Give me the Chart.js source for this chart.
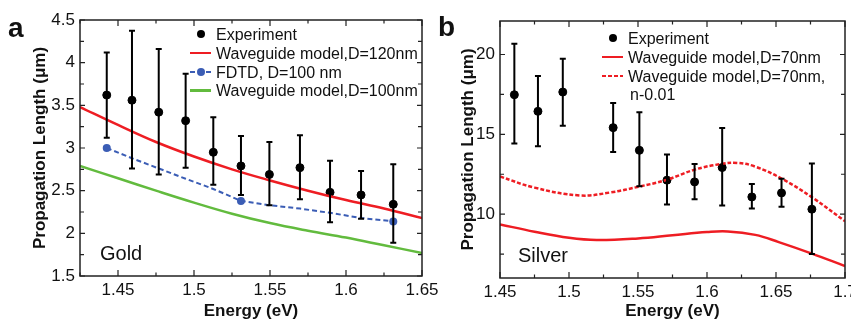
<!DOCTYPE html>
<html>
<head>
<meta charset="utf-8">
<script src="https://cdn.jsdelivr.net/npm/chart.js@4.4.1/dist/chart.umd.min.js"></script>
<style>
  body { margin: 0; background: #fff; font-family: "Liberation Sans", Arial, sans-serif; color: #111; }
  #figura { position: relative; width: 851px; height: 322px; overflow: hidden; }
  canvas { position: absolute; top: 0; }
  #chart-oro { left: 0; }
  #chart-plata { left: 430px; }
  .panel-tag { position: absolute; font-weight: bold; font-size: 28px; line-height: 28px; }
  .leg-text { position: absolute; font-size: 16px; line-height: 18px; white-space: nowrap; }
  .leg-line { position: absolute; width: 21px; height: 2.5px; }
  .leg-dot { position: absolute; width: 8px; height: 8px; border-radius: 50%; }
  .metal { position: absolute; font-size: 20px; line-height: 22px; }
</style>
</head>
<body>
<div id="figura">
  <canvas id="chart-oro" width="440" height="322"></canvas>
  <canvas id="chart-plata" width="421" height="322"></canvas>

  <div class="panel-tag" style="left:8px;top:14px">a</div>
  <div class="panel-tag" style="left:438px;top:13px">b</div>

  <!-- leyenda oro -->
  <div class="leg-dot" style="left:197px;top:30px;background:#000"></div>
  <div class="leg-text" style="left:216px;top:25.5px">Experiment</div>
  <div class="leg-line" style="left:190px;top:51.5px;background:#ee1d23"></div>
  <div class="leg-text" style="left:216px;top:44.5px">Waveguide model,D=120nm</div>
  <div class="leg-line" style="left:190px;top:71px;height:2px;background:repeating-linear-gradient(90deg,#3b5db5 0 5px,transparent 5px 8px)"></div>
  <div class="leg-dot" style="left:197px;top:68px;background:#3b5db5"></div>
  <div class="leg-text" style="left:216px;top:63.8px">FDTD, D=100 nm</div>
  <div class="leg-line" style="left:190px;top:89px;background:#62bb3e"></div>
  <div class="leg-text" style="left:216px;top:82px">Waveguide model,D=100nm</div>
  <div class="metal" style="left:100px;top:242px">Gold</div>

  <!-- leyenda plata -->
  <div class="leg-dot" style="left:609px;top:33.7px;background:#000"></div>
  <div class="leg-text" style="left:628px;top:29.5px">Experiment</div>
  <div class="leg-line" style="left:602px;top:55.5px;background:#ee1d23"></div>
  <div class="leg-text" style="left:628px;top:48.8px">Waveguide model,D=70nm</div>
  <div class="leg-line" style="left:602px;top:74.8px;background:repeating-linear-gradient(90deg,#ee1d23 0 4px,transparent 4px 6px)"></div>
  <div class="leg-text" style="left:628px;top:67.8px">Waveguide model,D=70nm,</div>
  <div class="leg-text" style="left:630px;top:85.5px">n-0.01</div>
  <div class="metal" style="left:518px;top:244px">Silver</div>
</div>

<script>
// ---- Oro (panel a) ----
const oroExpE   = [1.4426, 1.4592, 1.4768, 1.4945, 1.5127, 1.5309, 1.5496, 1.5697, 1.5895, 1.6099, 1.6311];
const oroExpL   = [3.62, 3.56, 3.42, 3.32, 2.95, 2.79, 2.69, 2.77, 2.48, 2.45, 2.34];
const oroExpAlt = [4.12, 4.375, 4.16, 3.87, 3.36, 3.14, 3.07, 3.15, 2.85, 2.73, 2.81];
const oroExpBaj = [3.12, 2.76, 2.69, 2.77, 2.57, 2.45, 2.33, 2.40, 2.13, 2.17, 1.89];

const oroD120E = [1.425, 1.45, 1.475, 1.50, 1.525, 1.55, 1.575, 1.60, 1.625, 1.65];
const oroD120L = [3.48, 3.27, 3.07, 2.90, 2.75, 2.62, 2.50, 2.39, 2.29, 2.18];

const oroFdtdE = [1.4426, 1.4592, 1.4768, 1.4945, 1.5127, 1.5309, 1.5496, 1.5697, 1.5895, 1.6099, 1.6311];
const oroFdtdL = [3.00, 2.88, 2.76, 2.64, 2.52, 2.38, 2.33, 2.29, 2.24, 2.18, 2.14];
const oroFdtdMarca = [4, 0, 0, 0, 0, 4, 0, 0, 0, 0, 4];

const oroD100E = [1.425, 1.45, 1.475, 1.50, 1.525, 1.55, 1.575, 1.60, 1.625, 1.65];
const oroD100L = [2.79, 2.645, 2.50, 2.36, 2.23, 2.12, 2.03, 1.95, 1.86, 1.77];

// ---- Plata (panel b) ----
const plataExpE   = [1.4604, 1.4775, 1.4955, 1.532, 1.551, 1.571, 1.591, 1.611, 1.6325, 1.654, 1.676];
const plataExpL   = [17.48, 16.44, 17.65, 15.42, 14.0, 12.13, 12.02, 12.92, 11.08, 11.33, 10.31];
const plataExpAlt = [20.67, 18.65, 19.73, 16.96, 16.38, 13.73, 13.14, 15.39, 11.89, 12.21, 13.17];
const plataExpBaj = [14.42, 14.25, 15.54, 13.89, 11.75, 10.61, 10.94, 10.54, 10.36, 10.46, 7.5];

const plataD70E = [1.45, 1.475, 1.50, 1.52, 1.55, 1.575, 1.60, 1.615, 1.635, 1.652, 1.676, 1.70];
const plataD70L = [9.36, 8.90, 8.52, 8.38, 8.48, 8.68, 8.88, 8.92, 8.70, 8.25, 7.53, 6.75];

const plataNE = [1.45, 1.475, 1.508, 1.53, 1.551, 1.5704, 1.5911, 1.6106, 1.622, 1.6349, 1.6544, 1.676, 1.70];
const plataNL = [12.36, 11.66, 11.17, 11.36, 11.73, 12.14, 12.79, 13.15, 13.21, 12.98, 12.21, 11.06, 9.56];

const ROJO = '#ee1d23';
const AZUL = '#3b5db5';
const VERDE = '#62bb3e';

Chart.defaults.font.family = '"Liberation Sans", Arial, sans-serif';
Chart.defaults.color = '#111';

const puntos = (xs, ys) => xs.map((x, i) => ({ x: x, y: ys[i] }));

// marcas hacia dentro en los cuatro lados + marco
const marcoYMarcas = {
    id: 'marcoYMarcas',
    afterDraw(chart) {
        const { ctx, chartArea: a, scales } = chart;
        ctx.save();
        ctx.strokeStyle = '#222';
        ctx.lineWidth = 1.2;
        scales.x.ticks.forEach(t => {
            const px = scales.x.getPixelForValue(t.value);
            const len = t.label ? 6 : 3.5;
            ctx.beginPath();
            ctx.moveTo(px, a.bottom); ctx.lineTo(px, a.bottom - len);
            ctx.moveTo(px, a.top); ctx.lineTo(px, a.top + len);
            ctx.stroke();
        });
        scales.y.ticks.forEach(t => {
            const py = scales.y.getPixelForValue(t.value);
            const len = t.label ? 5 : 4;
            ctx.beginPath();
            ctx.moveTo(a.left, py); ctx.lineTo(a.left + len, py);
            ctx.moveTo(a.right, py); ctx.lineTo(a.right - len, py);
            ctx.stroke();
        });
        ctx.lineWidth = 1.5;
        ctx.strokeRect(a.left, a.top, a.right - a.left, a.bottom - a.top);
        ctx.restore();
    }
};

function pluginBarrasError(energias, bajos, altos) {
    return {
        id: 'barrasError',
        afterDatasetsDraw(chart) {
            const { ctx, scales: { x, y } } = chart;
            ctx.save();
            ctx.strokeStyle = '#000';
            ctx.lineWidth = 2;
            energias.forEach((e, i) => {
                const px = x.getPixelForValue(e);
                const top = y.getPixelForValue(altos[i]);
                const bot = y.getPixelForValue(bajos[i]);
                ctx.beginPath();
                ctx.moveTo(px, top); ctx.lineTo(px, bot);
                ctx.moveTo(px - 3, top); ctx.lineTo(px + 3, top);
                ctx.moveTo(px - 3, bot); ctx.lineTo(px + 3, bot);
                ctx.stroke();
            });
            ctx.restore();
        }
    };
}

const esMultiplo = (v, paso) => Math.abs(v / paso - Math.round(v / paso)) < 1e-6;

function opciones(cfg) {
    return {
        responsive: false,
        animation: false,
        layout: { padding: cfg.padding },
        plugins: { legend: { display: false }, tooltip: { enabled: false } },
        scales: {
            x: {
                type: 'linear',
                min: cfg.xMin, max: cfg.xMax,
                grid: { display: false, drawTicks: false, tickLength: 0 },
                border: { display: false },
                afterFit: s => { s.height = cfg.altoX; s.paddingLeft = 0; s.paddingRight = 0; },
                ticks: {
                    stepSize: 0.025,
                    autoSkip: false,
                    maxRotation: 0,
                    padding: 4,
                    color: '#111',
                    font: { size: 17 },
                    callback: v => esMultiplo(v, 0.05) ? String(+v.toFixed(2)) : ''
                },
                title: {
                    display: true, text: 'Energy (eV)', color: '#111',
                    font: { size: 17, weight: 'bold' }, padding: { top: 0, bottom: 0 }
                }
            },
            y: {
                type: 'linear',
                min: cfg.yMin, max: cfg.yMax,
                grid: { display: false, drawTicks: false, tickLength: 0 },
                border: { display: false },
                afterFit: s => { s.width = cfg.anchoY; s.paddingTop = 0; s.paddingBottom = 0; },
                ticks: {
                    stepSize: cfg.yPaso,
                    includeBounds: false,
                    autoSkip: false,
                    padding: 5,
                    color: '#111',
                    font: { size: 17 },
                    callback: v => esMultiplo(v, cfg.yMayor) ? String(+v.toFixed(2)) : ''
                },
                title: {
                    display: true, text: 'Propagation Length (\u03bcm)', color: '#111',
                    font: { size: 17, weight: 'bold' }, padding: { top: 2, bottom: 0 }
                }
            }
        }
    };
}

document.addEventListener('DOMContentLoaded', () => {
    // panel a
    new Chart(document.getElementById('chart-oro'), {
        type: 'scatter',
        data: {
            datasets: [
                { data: puntos(oroD100E, oroD100L), showLine: true, borderColor: VERDE, borderWidth: 2.5, pointRadius: 0, tension: 0.4 },
                { data: puntos(oroD120E, oroD120L), showLine: true, borderColor: ROJO, borderWidth: 2.5, pointRadius: 0, tension: 0.4 },
                { data: puntos(oroFdtdE, oroFdtdL), showLine: true, borderColor: AZUL, backgroundColor: AZUL, borderWidth: 2, borderDash: [5, 3], pointRadius: oroFdtdMarca, pointBorderWidth: 0 },
                { data: puntos(oroExpE, oroExpL), backgroundColor: '#000', borderColor: '#000', pointRadius: 4 }
            ]
        },
        options: opciones({
            padding: { left: 28, right: 18, top: 20, bottom: 0 },
            xMin: 1.425, xMax: 1.65, yMin: 1.5, yMax: 4.5, yPaso: 0.25, yMayor: 0.5,
            altoX: 46, anchoY: 52
        }),
        plugins: [marcoYMarcas, pluginBarrasError(oroExpE, oroExpBaj, oroExpAlt)]
    });

    // panel b
    new Chart(document.getElementById('chart-plata'), {
        type: 'scatter',
        data: {
            datasets: [
                { data: puntos(plataD70E, plataD70L), showLine: true, borderColor: ROJO, borderWidth: 2.5, pointRadius: 0, tension: 0.4 },
                { data: puntos(plataNE, plataNL), showLine: true, borderColor: ROJO, borderWidth: 2.5, borderDash: [4, 2], pointRadius: 0, tension: 0.4 },
                { data: puntos(plataExpE, plataExpL), backgroundColor: '#000', borderColor: '#000', pointRadius: 4 }
            ]
        },
        options: opciones({
            padding: { left: 26, right: 6, top: 21, bottom: 0 },
            xMin: 1.45, xMax: 1.70, yMin: 6, yMax: 22.1, yPaso: 2.5, yMayor: 5,
            altoX: 44, anchoY: 44
        }),
        plugins: [marcoYMarcas, pluginBarrasError(plataExpE, plataExpBaj, plataExpAlt)]
    });
});
</script>
</body>
</html>
